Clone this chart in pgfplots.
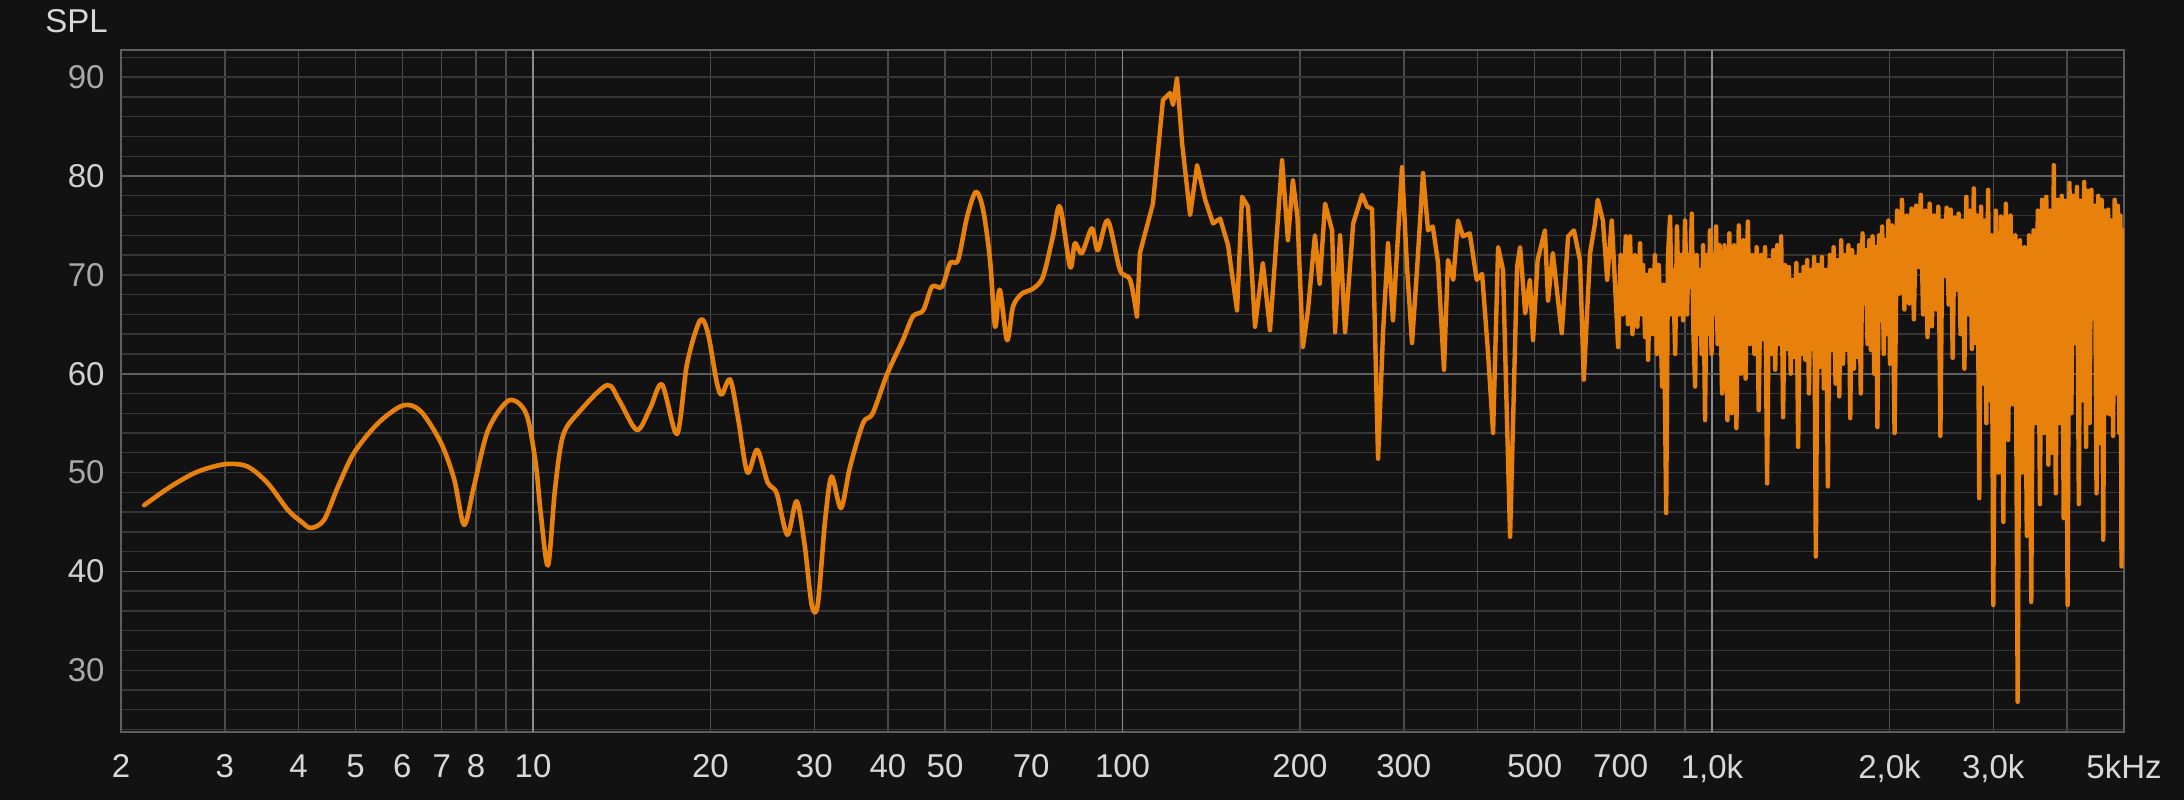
\documentclass[border=0pt]{standalone}
\usepackage{pgfplots}
\pgfplotsset{compat=1.18}
\usepackage{pgfplotstable}
\usepackage{fontspec}
\setmainfont{Liberation Sans}
\definecolor{bg}{HTML}{121212}
\definecolor{griddim}{HTML}{363636}
\definecolor{gridmid}{HTML}{4C4C4C}
\definecolor{gridbright}{HTML}{5E5E5E}
\definecolor{gridvbright}{HTML}{8C8C8C}
\definecolor{labx}{HTML}{D8D8D8}
\definecolor{laby}{HTML}{A8A8A8}
\definecolor{labyb}{HTML}{D0D0D0}
\definecolor{curve}{HTML}{E8810C}

\pgfplotstableread{
f db
2.19 46.7
2.43 48.6
2.70 50.1
3.01 50.85
3.28 50.6
3.55 48.9
3.84 46.2
4.05 45.0
4.2 44.4
4.42 45.2
4.67 48.6
4.97 52.0
5.46 55.0
6.02 56.8
6.45 56.2
6.98 53.0
7.35 49.3
7.64 44.7
7.94 48.6
8.39 54.3
9.10 57.3
9.73 56.0
10.1 51.0
10.3 46.0
10.6 40.6
10.9 48.4
11.25 53.8
12.0 56.2
13.35 58.85
14.0 57.3
15.0 54.3
15.8 56.5
16.55 58.9
17.55 53.9
18.25 61.0
19.2 65.4
19.8 64.1
20.5 59.1
20.9 57.9
21.6 59.4
22.3 55.3
23.1 50.0
24.0 52.3
25.0 49.0
25.9 47.9
27.0 43.7
28.0 47.1
28.9 42.6
29.7 36.6
30.4 36.6
31.3 45.2
32.1 49.6
33.3 46.4
34.5 50.6
36.3 55.0
37.7 56.0
39.9 60.0
42.4 63.4
44.1 65.8
45.9 66.4
47.5 68.8
49.4 68.8
51.0 71.2
52.6 71.5
54.5 75.9
56.4 78.4
58.0 76.6
59.6 71.5
60.8 64.75
61.9 68.5
63.7 63.4
65.2 66.8
67.5 68.1
70.5 68.6
73.3 69.8
76.2 73.9
78.3 76.9
81.5 70.8
83.0 73.2
85.3 72.2
88.7 74.7
90.8 72.5
94.4 75.5
99.0 70.5
103 69.5
105.8 65.8
}\lowdata

\pgfplotstableread{
f db
105.8 65.8
107 72.2
112.6 77.2
117.1 87.7
120.4 88.4
121.8 87.2
123.7 89.9
126.2 83.3
130.2 76.05
133.8 81.1
138.1 77.6
142.4 75.2
146.4 75.7
151 73.0
156.4 66.4
159.5 77.9
163.2 76.9
167.8 64.75
173 71.2
177.9 64.4
186.5 81.6
190.8 73.5
194.5 79.6
198 75.9
202.3 62.7
206.4 66.5
212 74.0
216 69.1
220.6 77.2
226.7 74.5
229.4 64.2
233.9 74.0
238.5 64.2
246.2 75.2
254.9 78.1
259.9 76.9
265 76.7
271.3 51.4
276.6 64.1
282.1 73.2
287.6 65.4
297.9 80.9
303.8 70.8
309.8 63.1
315.9 70.5
323.4 80.3
329.8 74.5
336 74.9
342.8 71.3
351 60.4
356.5 71.5
364 69.5
370.8 75.5
378 73.9
388.2 74.2
399 69.5
407.3 70.1
416.9 62.1
425.2 54.0
433.6 72.8
442 70.5
454.4 43.5
466.9 70.8
472.5 72.8
482 66.1
491 69.5
497 63.4
506 71.5
520.6 74.5
527 67.4
537 72.2
548 67.4
556 64.1
570 73.9
583 74.5
597 71.5
606 59.4
621 72.2
633 75.2
640 77.6
653 75.5
664 69.5
676 75.5
685 68.8
693 62.7
700 72.0
706 66.0
714 73.9
720 65.0
726 73.9
733 64.0
740 72.0
747 64.75
755 73.2
760 66.0
764 71.0
770 63.7
775 70.0
779 61.4
786 70.5
794 64.0
800 72.0
806 62.0
812 71.0
817 66.4
823 58.7
828 69.0
836 45.9
842 72.0
849 75.9
854 66.0
859 70.5
866 62.0
872 74.9
879 66.0
886 72.0
893 65.4
900 75.5
907 66.0
912 72.0
918 68.8
924 76.2
930 64.0
936 58.7
942 72.0
948 64.0
954 70.5
960 62.0
966 73.0
973 55.3
980 72.0
986 64.0
992 74.5
998 62.0
1004 72.0
1010 66.1
1016 74.9
1022 63.0
1030 73.0
1040 58.0
1050 73.0
1062 55.3
1070 74.2
1080 56.0
1090 73.0
1100 54.5
1110 75.0
1120 60.0
1130 73.5
1140 59.5
1150 75.4
1160 63.0
1170 72.0
1180 62.0
1190 72.8
1200 56.3
1210 72.0
1220 63.5
1230 72.8
1240 48.9
1250 71.5
1260 62.0
1270 72.5
1280 60.4
1290 73.0
1300 63.0
1310 73.9
1320 55.6
1330 71.0
1340 62.5
1350 70.8
1360 60.0
1370 69.5
1380 61.7
1390 71.2
1400 52.6
1410 70.0
1420 62.0
1430 70.8
1440 61.4
1450 71.5
1460 58.0
1470 70.5
1480 62.5
1490 71.8
1500 41.5
1512 71.0
1524 60.7
1536 71.8
1548 58.5
1560 70.5
1572 48.6
1584 72.0
1596 62.4
1608 72.8
1620 59.0
1632 71.5
1644 57.7
1656 73.5
1668 61.0
1680 72.0
1692 62.4
1704 73.0
1716 55.5
1728 72.5
1740 60.5
1752 71.8
1764 61.7
1776 73.0
1788 58.0
1800 74.2
1812 67.1
1824 72.5
1836 63.0
1848 73.5
1860 62.4
1872 73.9
1884 60.0
1896 72.8
1908 54.6
1920 74.0
1932 65.4
1944 74.9
1956 62.0
1968 73.5
1980 64.0
1992 75.5
2004 61.0
2020 75.0
2040 54.0
2060 76.5
2080 68.1
2100 77.6
2120 66.5
2140 76.0
2160 67.1
2180 76.7
2200 65.5
2220 77.0
2240 70.8
2260 78.1
2280 66.0
2300 76.5
2320 63.7
2340 77.2
2360 64.8
2380 76.0
2400 66.5
2420 76.9
2440 53.7
2460 75.5
2480 69.9
2500 76.8
2520 67.0
2540 76.6
2560 61.6
2580 75.8
2600 68.5
2620 76.2
2640 64.0
2660 75.5
2680 60.5
2700 77.9
2720 66.0
2740 76.5
2760 62.5
2780 78.75
2800 63.1
2820 76.0
2840 47.4
2860 76.9
2880 59.0
2900 75.5
2920 55.0
2940 78.6
2960 57.3
2980 74.0
3000 36.6
3030 76.5
3060 50.0
3090 75.9
3120 45.0
3150 77.2
3180 53.3
3210 76.0
3240 56.9
3270 74.0
3300 26.8
3330 73.5
3360 50.0
3390 72.8
3420 43.6
3450 74.0
3480 36.9
3510 74.5
3540 55.0
3570 76.5
3600 46.8
3630 77.6
3660 54.0
3690 77.9
3720 50.8
3750 76.5
3780 52.0
3800 81.1
3830 47.9
3860 77.6
3890 55.0
3920 78.0
3950 45.4
3980 77.5
4010 36.6
4040 79.3
4070 56.0
4100 78.0
4130 63.1
4160 78.9
4190 46.8
4220 77.5
4250 57.3
4280 79.4
4310 52.6
4340 78.5
4370 55.0
4400 78.6
4430 65.6
4460 77.0
4490 47.9
4520 78.0
4550 53.0
4580 77.6
4610 43.2
4640 76.5
4670 56.0
4700 76.6
4730 55.9
4760 75.5
4790 53.7
4820 77.6
4850 58.0
4880 77.0
4910 54.0
4930 76.0
4950 40.5
4975 74.5
5000 60.0
}\highdata

\begin{document}
\begin{tikzpicture}
\fill[bg] (0,0) rectangle (1092pt,400pt);
\node[anchor=base west, inner sep=0pt, text=labx, font=\fontsize{16.5}{18}\selectfont] at (22.5pt,383.5pt) {SPL};
\begin{axis}[
  at={(60.5pt,34pt)}, anchor=south west,
  scale only axis, width=1001.5pt, height=341pt,
  xmode=log, log basis x=10,
  xmin=2, xmax=5000, ymin=23.75, ymax=92.75,
  axis background/.style={fill=bg},
  axis line style={draw=gridbright, line width=0.8pt},
  major tick length=0pt, minor tick length=0pt,
  xtick={2,3,4,5,6,7,8,20,30,40,50,70,200,300,500,700,2000,3000,5000},
  xticklabels={2,3,4,5,6,7,8,20,30,40,50,70,200,300,500,700,{2,0k},{3,0k},5kHz},
  minor xtick={9,60,80,90,400,600,800,900,4000},
  extra x ticks={10,100,1000},
  extra x tick labels={10,100,{1,0k}},
  extra x tick style={major x grid style={draw=gridvbright, line width=0.8pt}},
  ytick={30,50,70,90}, yticklabels={30,50,70,90},
  minor ytick={24,26,28,32,34,36,38,42,44,46,48,52,54,56,58,62,64,66,68,72,74,76,78,82,84,86,88,92},
  extra y ticks={40,60,80}, extra y tick labels={40,60,80},
  extra y tick style={major y grid style={draw=gridbright, line width=0.8pt}, yticklabel style={text=labyb}},
  xmajorgrids, xminorgrids, ymajorgrids, yminorgrids,
  major x grid style={draw=gridmid, line width=0.7pt},
  minor x grid style={draw=gridmid, line width=0.7pt},
  major y grid style={draw=griddim, line width=0.7pt},
  minor y grid style={draw=griddim, line width=0.7pt},
  ticklabel style={font=\fontsize{16.5}{18}\selectfont, inner sep=0pt},
  xticklabel style={text=labx, anchor=north},
  yticklabel style={text=laby, anchor=east},
  xticklabel shift=11pt, yticklabel shift=8pt,
]
\addplot[curve, line width=2.3pt, smooth, tension=0.5, line join=round, line cap=round] table[x=f,y=db]{\lowdata};
\addplot[curve, line width=2.2pt, line join=round, line cap=round] table[x=f,y=db]{\highdata};
\end{axis}
\end{tikzpicture}
\end{document}
